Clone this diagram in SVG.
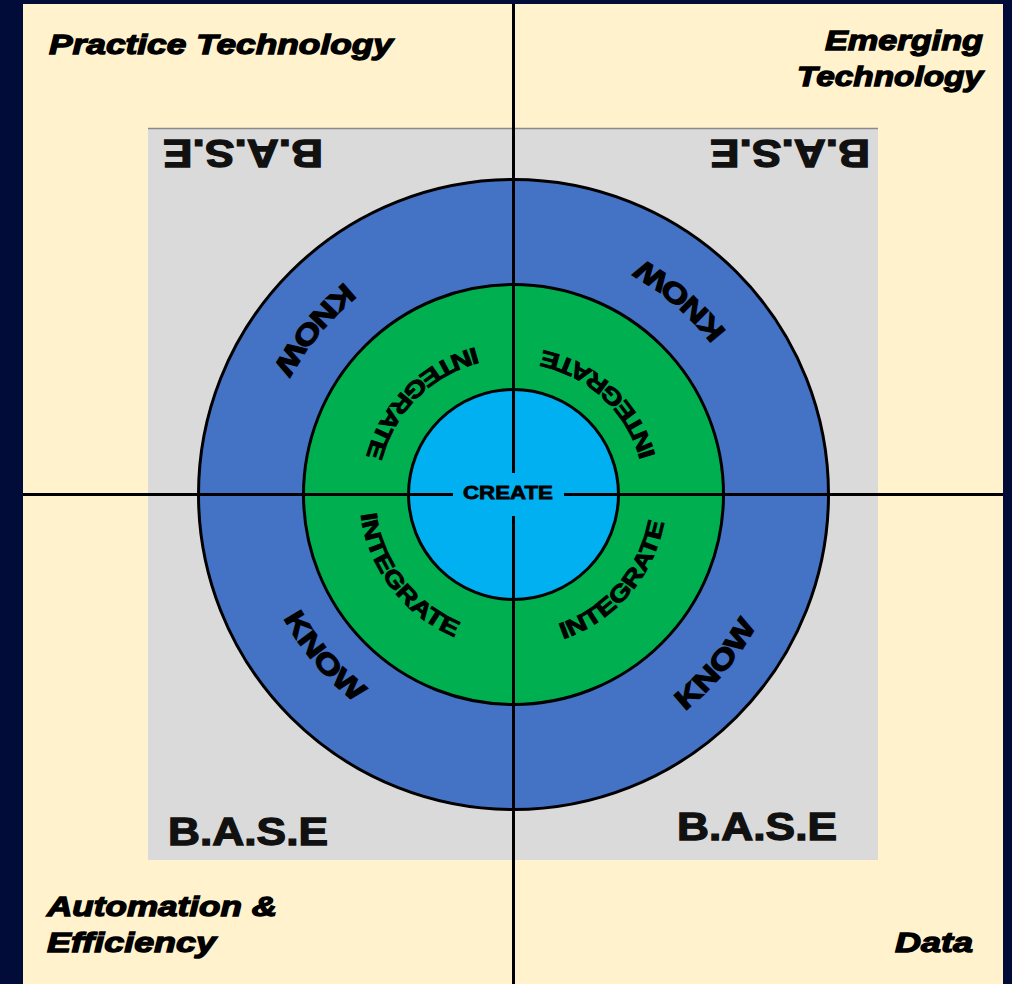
<svg xmlns="http://www.w3.org/2000/svg" width="1012" height="984" viewBox="0 0 1012 984">
<style>
.corner{font-family:"Liberation Sans",Arial,sans-serif;font-weight:bold;font-style:italic;font-size:28px;fill:#000;stroke:#000;stroke-width:1.3}
.base{font-family:"Liberation Sans",Arial,sans-serif;font-weight:bold;font-size:39px;fill:#111;stroke:#111;stroke-width:1.3}
.know{font-family:"Liberation Sans",Arial,sans-serif;font-weight:bold;font-size:28px;fill:#000;stroke:#000;stroke-width:1.2}
.integ{font-family:"Liberation Sans",Arial,sans-serif;font-weight:bold;font-size:23px;fill:#000;stroke:#000;stroke-width:0.9}
.create{font-family:"Liberation Sans",Arial,sans-serif;font-weight:bold;font-size:19px;fill:#000;stroke:#000;stroke-width:0.8}
.ring{stroke:#000;stroke-width:3}
.axis{stroke:#000;stroke-width:3;fill:none}
</style>
<defs>
<path id="pKnowTL" d="M465.0,227.9 A271,271 0 0 0 242.5,495.9"/>
<path id="pKnowTR" d="M777.9,450.7 A268,268 0 0 0 516.3,226.5"/>
<path id="pKnowBL" d="M252.5,496.8 A261,261 0 0 0 470.4,751.9"/>
<path id="pKnowBR" d="M561.4,766.3 A276,276 0 0 0 789.5,494.5"/>
<path id="pIntTL" d="M526.7,343.1 A152,152 0 0 0 362.1,507.7"/>
<path id="pIntTR" d="M660.3,502.2 A147,147 0 0 0 495.6,348.6"/>
<path id="pIntBL" d="M363.1,461.2 A154,154 0 0 0 506.8,648.4"/>
<path id="pIntBR" d="M511.4,647.5 A153,153 0 0 0 664.5,470.0"/>
</defs>
<rect x="0" y="0" width="1012" height="984" fill="#010c38"/>
<rect x="23" y="4" width="980" height="980" fill="#fff2cc"/>
<g id="base-square">
<rect x="148" y="128" width="730" height="732" fill="#dadada"/>
<line x1="148" y1="128.5" x2="878" y2="128.5" stroke="#8a8a8a" stroke-width="1.5"/>
</g>
<g id="ring-know">
<circle cx="513.5" cy="494.5" r="315" fill="#4472c4" class="ring"/>
</g>
<g id="ring-integrate">
<circle cx="513.5" cy="494.5" r="210" fill="#00b050" class="ring"/>
</g>
<g id="core-create">
<circle cx="513.5" cy="494.5" r="105" fill="#00b0f0" class="ring"/>
</g>
<g id="connectors">
<line class="axis" x1="513.5" y1="4" x2="513.5" y2="473"/>
<line class="axis" x1="513.5" y1="516" x2="513.5" y2="984"/>
<line class="axis" x1="23" y1="494.5" x2="453" y2="494.5"/>
<line class="axis" x1="564" y1="494.5" x2="1003" y2="494.5"/>
</g>
<g id="label-create">
<text class="create" x="508" y="499" text-anchor="middle" textLength="90" lengthAdjust="spacingAndGlyphs">CREATE</text>
</g>
<g id="labels-know">
<text class="know"><textPath href="#pKnowTL" startOffset="50%" text-anchor="middle" textLength="112" lengthAdjust="spacingAndGlyphs">KNOW</textPath></text>
<text class="know"><textPath href="#pKnowTR" startOffset="50%" text-anchor="middle" textLength="112" lengthAdjust="spacingAndGlyphs">KNOW</textPath></text>
<text class="know"><textPath href="#pKnowBL" startOffset="50%" text-anchor="middle" textLength="112" lengthAdjust="spacingAndGlyphs">KNOW</textPath></text>
<text class="know"><textPath href="#pKnowBR" startOffset="50%" text-anchor="middle" textLength="112" lengthAdjust="spacingAndGlyphs">KNOW</textPath></text>
</g>
<g id="labels-integrate">
<text class="integ"><textPath href="#pIntTL" startOffset="50%" text-anchor="middle" textLength="162" lengthAdjust="spacingAndGlyphs">INTEGRATE</textPath></text>
<text class="integ"><textPath href="#pIntTR" startOffset="50%" text-anchor="middle" textLength="162" lengthAdjust="spacingAndGlyphs">INTEGRATE</textPath></text>
<text class="integ"><textPath href="#pIntBL" startOffset="50%" text-anchor="middle" textLength="162" lengthAdjust="spacingAndGlyphs">INTEGRATE</textPath></text>
<text class="integ"><textPath href="#pIntBR" startOffset="50%" text-anchor="middle" textLength="162" lengthAdjust="spacingAndGlyphs">INTEGRATE</textPath></text>
</g>
<g id="labels-base">
<text class="base" x="243" y="168" text-anchor="middle" textLength="160" lengthAdjust="spacingAndGlyphs" transform="rotate(180 243 154)">B.A.S.E</text>
<text class="base" x="790" y="168" text-anchor="middle" textLength="160" lengthAdjust="spacingAndGlyphs" transform="rotate(180 790 154)">B.A.S.E</text>
<text class="base" x="168" y="845" textLength="160" lengthAdjust="spacingAndGlyphs">B.A.S.E</text>
<text class="base" x="677" y="840" textLength="160" lengthAdjust="spacingAndGlyphs">B.A.S.E</text>
</g>
<g id="quadrant-practice-technology">
<text class="corner" x="49" y="54" textLength="344" lengthAdjust="spacingAndGlyphs">Practice Technology</text>
</g>
<g id="quadrant-emerging-technology">
<text class="corner" x="825" y="50" textLength="158" lengthAdjust="spacingAndGlyphs">Emerging</text>
<text class="corner" x="797" y="86" textLength="186" lengthAdjust="spacingAndGlyphs">Technology</text>
</g>
<g id="quadrant-automation">
<text class="corner" x="47" y="916" textLength="230" lengthAdjust="spacingAndGlyphs">Automation &amp;</text>
<text class="corner" x="47" y="952" textLength="169" lengthAdjust="spacingAndGlyphs">Efficiency</text>
</g>
<g id="quadrant-data">
<text class="corner" x="895" y="952" textLength="78" lengthAdjust="spacingAndGlyphs">Data</text>
</g>
</svg>
